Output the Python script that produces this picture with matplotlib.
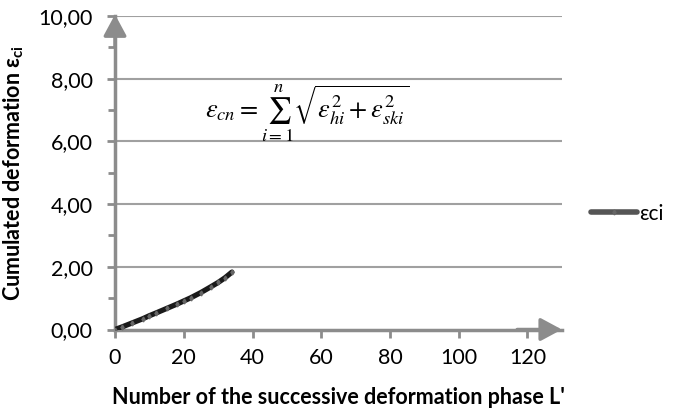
import matplotlib.pyplot as plt

# data
phase = [0, 2, 5, 8, 10, 12, 15, 18, 20, 22, 25, 28, 30, 32, 34]
eps_ci = [0.0, 0.08, 0.21, 0.34, 0.44, 0.53, 0.67, 0.81, 0.91, 1.01, 1.18, 1.37, 1.50, 1.65, 1.83]

x_ticks = [0, 20, 40, 60, 80, 100, 120]
y_ticks = [0, 2, 4, 6, 8, 10]

plt.rcParams['font.family'] = ['Lato', 'DejaVu Sans']
plt.rcParams['mathtext.fontset'] = 'stix'

grey = '#8c8c8c'
fig = plt.figure(figsize=(6.75, 4.08), dpi=100)
ax = fig.add_axes([0.1704, 0.1924, 0.662, 0.7684])

ax.plot(phase, eps_ci, color='#1a1a1a', lw=3.8, marker='d', ms=2.5,
        mec='#666666', mfc='#666666', solid_capstyle='round', label='εci', zorder=3)

ax.set_xlim(0, 130)
ax.set_ylim(0, 10)
ax.set_xticks(x_ticks)
ax.set_yticks(y_ticks)
ax.set_yticks([1, 3, 5, 7, 9], minor=True)
ax.set_yticklabels([f'{v:.2f}'.replace('.', ',') for v in y_ticks])
ax.tick_params(axis='both', labelsize=15.5, color=grey, width=2, length=6)
ax.tick_params(axis='y', pad=10)
ax.tick_params(axis='x', pad=7)
ax.tick_params(axis='y', which='minor', color=grey, width=2, length=5)

for v in y_ticks[1:]:
    ax.axhline(v, color='#a0a0a0', lw=1.5, zorder=1)

for s in ['top', 'right']:
    ax.spines[s].set_visible(False)
for s in ['left', 'bottom']:
    ax.spines[s].set_color(grey)
    ax.spines[s].set_linewidth(2.5)

# arrow heads on the axes
head = dict(arrowstyle='-|>,head_length=0.65,head_width=0.35', color=grey,
            lw=2.5, shrinkA=0, shrinkB=0, mutation_scale=20)
ax.annotate('', xy=(0, 1.005), xycoords='axes fraction', xytext=(0, 0.9),
            arrowprops=head, annotation_clip=False)
ax.annotate('', xy=(1.0, 0), xycoords='axes fraction', xytext=(0.9, 0),
            arrowprops=head, annotation_clip=False)

ax.set_xlabel("Number of the successive deformation phase L'", fontsize=15.5,
              fontweight='bold', labelpad=14)
ax.set_ylabel(r'Cumulated deformation ε$_{\mathregular{ci}}$', fontsize=15.5,
              fontweight='bold', labelpad=10)

ax.text(0.43, 0.69,
        r'$\varepsilon_{cn}=\sum_{i=1}^{n}\sqrt{\varepsilon_{hi}^{2}+\varepsilon_{ski}^{2}}$',
        transform=ax.transAxes, ha='center', va='center', fontsize=19)

leg = ax.legend(loc='center left', bbox_to_anchor=(1.065, 0.37), frameon=False,
                fontsize=15, handlelength=2.2, handletextpad=0.1,
                borderaxespad=0, borderpad=0)
leg.get_lines()[0].set_color('#555555')
leg.get_lines()[0].set_linewidth(4)

plt.savefig('out.png', dpi=100)
